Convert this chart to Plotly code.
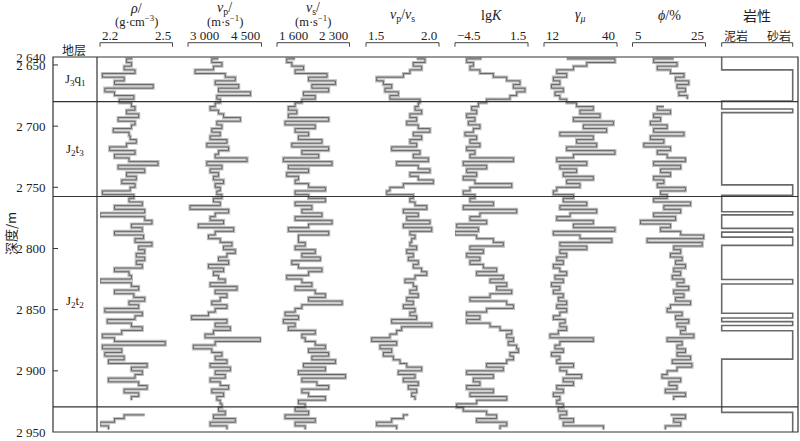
import plotly.graph_objects as go

# ---------------- data ----------------
depth = [2645, 2648, 2651, 2654, 2657, 2660, 2663, 2666, 2669, 2672,
         2675, 2678, 2681, 2684, 2687, 2690, 2693, 2696, 2699, 2702,
         2705, 2708, 2711, 2714, 2717, 2720, 2723, 2726, 2729, 2732,
         2735, 2738, 2741, 2744, 2747, 2750, 2753, 2756, 2759, 2762,
         2765, 2768, 2771, 2774, 2777, 2780, 2783, 2786, 2789, 2792,
         2795, 2798, 2801, 2804, 2807, 2810, 2813, 2816, 2819, 2822,
         2825, 2828, 2831, 2834, 2837, 2840, 2843, 2846, 2849, 2852,
         2855, 2858, 2861, 2864, 2867, 2870, 2873, 2876, 2879, 2882,
         2885, 2888, 2891, 2894, 2897, 2900, 2903, 2906, 2909, 2912,
         2915, 2918, 2921, 2924, 2927, 2930, 2933, 2936, 2939, 2942,
         2945, 2948]

rho = [2.335, 2.31, 2.33, 2.30, 2.345, 2.21, 2.30, 2.26, 2.42, 2.22,
       2.26, 2.34, 2.28, 2.33, 2.345, 2.31, 2.36, 2.275, 2.345, 2.33,
       2.255, 2.32, 2.325, 2.35, 2.31, 2.24, 2.345, 2.26, 2.32, 2.44,
       2.275, 2.385, 2.31, 2.35, 2.29, 2.345, 2.325, 2.21, 2.34, 2.32,
       2.375, 2.26, 2.385, 2.20, 2.385, 2.415, 2.33, 2.375, 2.26, 2.38,
       2.345, 2.415, 2.36, 2.385, 2.35, 2.385, 2.35, 2.375, 2.26, 2.32,
       2.33, 2.20, 2.33, 2.36, 2.26, 2.34, 2.385, 2.32, 2.36, 2.22,
       2.375, 2.345, 2.23, 2.33, 2.375, 2.29, 2.21, 2.26, 2.47, 2.21,
       2.29, 2.22, 2.30, 2.235, 2.395, 2.33, 2.375, 2.345, 2.235, 2.36,
       2.395, 2.30, 2.36, 2.33, None, None, None, 2.385, 2.30, 2.26,
       2.20, 2.235]

vp = [3623, 3486, 3692, 3520, 3144, 3760, 3965, 3555, 4034, 3623,
      4274, 3589, 3658, 3555, 3452, 3623, 3726, 4068, 3589, 3692,
      3486, 3658, 3452, 3795, 3384, 3829, 3623, 3555, 4205, 3384,
      3692, 3452, 3623, 3520, 3726, 3555, 3658, 3589, 3692, 3520,
      3658, 3041, 3829, 3555, 3452, 3726, 3212, 3932, 3555, 3418,
      3658, 3897, 3726, 3965, 3795, 3623, 3829, 3418, 3726, 3520,
      3623, 3760, 3452, 4000, 3555, 3795, 3658, 3486, 3795, 3555,
      3418, 3075, 3795, 3555, 3863, 3520, 3349, 4479, 3555, 3110,
      3486, 3692, 3555, 3795, 3452, 3863, 3555, 3760, 3452, 3658,
      3829, 3486, 3726, 3589, 3658, 3692, 3623, 3760, 3520, 3965,
      3452, 3795]

vs = [1775, 1694, 1743, 1856, 1775, 2083, 1905, 2164, 1937, 2099,
      1856, 1969, 1840, 1775, 1710, 1791, 1710, 2099, 1678, 1969,
      1775, 1905, 1807, 2034, 1743, 2099, 1840, 2002, 1662, 2131,
      1710, 1905, 1694, 1807, 1775, 1905, 2067, 1775, 1905, 2067,
      1775, 1937, 1840, 2034, 1775, 2131, 1905, 1710, 2099, 1807,
      1807, 1872, 1775, 1969, 1840, 2018, 1743, 1807, 2034, 1905,
      1694, 1840, 1937, 1775, 1969, 2067, 1905, 2229, 1840, 1775,
      1678, 1807, 1662, 1775, 1710, 1969, 1840, 1872, 1969, 2067,
      1905, 2099, 1937, 2164, 1856, 2067, 1807, 2261, 1840, 1986,
      2099, 1840, 1905, 2067, 1807, 1872, 1775, 1905, 1678, 1969,
      1775, 1872]

vpvs = [1.847, 1.904, 1.824, 1.881, 1.801, 1.756, 1.573, 1.619, 1.676, 1.630,
        1.721, 1.664, 1.870, 1.858, 1.836, 1.881, 1.801, 1.847, 1.779, 1.858,
        1.938, 1.824, 1.881, 1.801, 1.847, 1.676, 1.870, 1.824, 1.927, 1.710,
        1.858, 1.938, 1.801, 1.858, 1.961, 1.756, 1.664, 1.642, 1.824, 1.801,
        1.836, 1.916, 1.756, 1.858, 1.779, 1.938, 1.756, 1.950, 1.801, 1.836,
        1.813, 1.801, 1.847, 1.779, 1.824, 1.790, 1.858, 1.824, 1.881, 1.916,
        1.836, 1.767, 1.824, 1.847, 1.801, 1.858, 1.779, 1.824, 1.756, 1.836,
        1.801, 1.847, 1.676, 1.950, 1.744, 1.710, 1.664, 1.539, 1.710, 1.596,
        1.676, 1.619, 1.687, 1.733, 1.779, 1.881, 1.721, 1.836, 1.756, 1.858,
        1.790, 1.847, 1.813, 1.836, None, None, None, 1.790, 1.756, 1.676,
        1.573, 1.710]

lgk = [-2.31, -3.54, -2.99, -3.27, -2.45, -1.35, -0.25, 0.84, 0.30, 1.25,
       0.57, 0.02, -1.90, -2.58, -3.13, -2.72, -3.54, -2.86, -3.40, -2.45,
       -2.99, -3.68, -2.72, -3.27, -2.45, -3.54, -2.86, -3.27, 0.30, -3.82,
       -1.90, -3.54, -2.72, -3.82, -2.86, 0.16, -3.27, -3.82, -2.86, -3.27,
       -1.35, -3.82, 0.57, -2.45, -3.27, -1.90, -4.36, -2.58, -4.50, -2.72,
       -1.35, -0.53, -3.27, -2.17, -3.54, -2.45, -3.27, -2.17, -1.08, -2.72,
       -0.53, -1.62, -0.25, -1.08, 0.16, -1.62, -3.27, -0.25, 0.30, -1.90,
       -3.54, -2.45, -3.54, -1.62, -0.80, 0.16, -0.25, 0.30, -0.12, 0.57,
       0.71, 0.02, 0.30, -0.25, -1.90, -0.53, -3.54, -1.35, -2.99, -2.45,
       -3.54, -1.35, -3.27, -0.25, -2.72, -4.36, -3.82, -1.90, -1.08, -2.72,
       -0.25, -0.80]

gamma = [20.7, 39.2, 28.4, 23.3, 16.9, 20.7, 15.6, 18.1, 14.9, 19.4,
         16.2, 18.1, 20.7, 24.5, 30.9, 25.8, 33.5, 23.3, 38.6, 27.1,
         36.0, 18.1, 30.9, 24.5, 32.2, 20.7, 39.2, 23.3, 16.9, 28.4,
         18.1, 24.5, 19.4, 30.9, 20.7, 25.8, 16.9, 15.6, 23.3, 19.4,
         28.4, 18.1, 32.2, 22.0, 16.9, 30.9, 23.3, 39.2, 15.6, 25.8,
         38.0, 18.1, 28.4, 18.1, 20.7, 16.9, 19.4, 15.6, 18.1, 20.7,
         16.2, 19.4, 14.9, 18.1, 15.6, 19.4, 17.5, 20.7, 16.9, 20.7,
         18.1, 15.6, 20.1, 18.1, 20.7, 17.5, 14.3, 30.9, 18.1, 16.2,
         19.4, 14.9, 18.1, 16.9, 23.3, 18.1, 20.7, 26.4, 19.4, 23.3,
         16.9, 19.4, 15.6, 18.1, 16.9, 19.4, 17.5, 20.7, 18.1, 23.3,
         19.4, 34.8]

phi = [16.3, 10.8, 17.2, 11.8, 15.4, 19.1, 16.8, 20.4, 17.2, 19.5,
       17.7, 20.0, None, 13.6, 11.8, 15.4, 10.8, 12.7, 9.9, 14.5,
       10.8, 19.1, 9.9, 13.6, 8.1, 15.4, 11.8, 14.5, 19.5, 10.8,
       18.2, 12.7, 15.4, 10.8, 13.6, 11.8, 19.5, 12.7, 14.5, 10.8,
       20.9, 13.6, 18.2, 10.8, 16.8, 7.2, 15.4, 12.7, 18.2, 24.5,
       9.0, 24.1, 16.3, 18.2, 15.4, 18.6, 16.8, 19.5, 16.3, 18.2,
       15.9, 19.1, 17.2, 20.4, 16.3, 19.1, 16.8, 20.9, 15.4, 14.5,
       18.6, 16.8, 20.4, 17.2, 19.5, 18.2, 21.8, 14.5, 18.6, 17.2,
       19.5, 17.2, 20.9, 15.9, 21.3, 17.2, 14.5, 13.1, 18.2, 15.0,
       17.2, 14.0, 19.5, 16.3, None, None, None, 15.4, 19.5, 16.3,
       18.2, 14.0]

# lithology: 0 = 泥岩 (mudstone), 1 = 砂岩 (sandstone); interval tops, last = bottom
lith_depth = [2643.5, 2654, 2679.5, 2686, 2689, 2748, 2756.5, 2770, 2772.5, 2783.6,
              2786.6, 2790.7, 2797.5, 2825.4, 2829, 2853, 2856.8, 2859.8, 2863, 2867.2,
              2890.4, 2934, 2950]
lith_code = [0, 1, 0, 1, 0, 1, 0, 1, 0, 1,
             0, 1, 0, 1, 0, 1, 0, 1, 0, 1,
             0, 1, 1]

# formations
form_names = ["J<sub>3</sub>q<sub>1</sub>", "J<sub>2</sub>t<sub>3</sub>", "J<sub>2</sub>t<sub>2</sub>", ""]
form_top = [2643.5, 2680, 2757.5, 2929.5]
form_bot = [2680, 2757.5, 2929.5, 2950]

depth_ticks = [2643.5, 2650, 2700, 2750, 2800, 2850, 2900, 2950]
depth_ticktext = ["2 640", "2 650", "2 700", "2 750", "2 800", "2 850", "2 900", "2 950"]

# track definitions: title, subtitle, min, max, left label, right label, values
tracks = [
    ("<i>ρ</i>/", "(g·cm<sup>−3</sup>)", 2.2, 2.5, "2.2", "2.5", rho),
    ("<i>v</i><sub>p</sub>/", "(m·s<sup>−1</sup>)", 3000, 4500, "3 000", "4 500", vp),
    ("<i>v</i><sub>s</sub>/", "(m·s<sup>−1</sup>)", 1600, 2300, "1 600", "2 300", vs),
    ("<i>v</i><sub>p</sub>/<i>v</i><sub>s</sub>", None, 1.5, 2.0, "1.5", "2.0", vpvs),
    ("lg<i>K</i>", None, -4.5, 1.5, "−4.5", "1.5", lgk),
    ("<i>γ</i><sub><i>μ</i></sub>", None, 12, 40, "12", "40", gamma),
    ("<i>ϕ</i>/%", None, 5, 25, "5", "25", phi),
]

# ---------------- layout geometry (pixels) ----------------
W, H = 800, 441
FL, FR, FT, FB = 53, 798, 57, 432
DIV = 97
track_px = [(100, 172.5), (188, 261.5), (277, 349.5), (366, 439),
            (455, 528), (544, 617), (632.5, 705.5)]
lith_px = (721.7, 792.7)

def px(x):
    return x / W

def py(y):
    return 1 - y / H

SERIF = "Liberation Serif, Times New Roman, serif"
CJK = "Noto Sans CJK SC"
LINE = "#333333"
CURVE_DARK = "#505050"
CURVE_LIGHT = "#bdbdbd"

fig = go.Figure()
layout = dict(
    width=W, height=H, autosize=False,
    margin=dict(l=0, r=0, t=0, b=0, autoexpand=False),
    paper_bgcolor="white", plot_bgcolor="white",
    showlegend=False,
    xaxis=dict(domain=[px(FL), px(FR)], range=[0, 1], anchor="y",
               showticklabels=False, ticks="", showline=False, showgrid=False, zeroline=False),
    yaxis=dict(domain=[py(FB), py(FT)], range=[2950, 2643.5],
               anchor="free", position=px(FL), side="left",
               ticklabelposition="outside",
               tickvals=depth_ticks, ticktext=depth_ticktext,
               ticks="outside", ticklen=5, tickcolor="rgba(0,0,0,0)", tickwidth=1,
               showline=False, showgrid=False, zeroline=False, automargin=False,
               tickfont=dict(family=SERIF, size=13, color="#222")),
)

annotations = []
shapes = []

def ann(text, x, y, size=13, xanchor="center", family=SERIF, angle=0):
    annotations.append(dict(text=text, x=px(x), y=py(y), xref="paper", yref="paper",
                            xanchor=xanchor, yanchor="middle", showarrow=False,
                            textangle=angle,
                            font=dict(family=family, size=size, color="#222")))

def bracket(x0, x1):
    shapes.append(dict(type="path", xref="paper", yref="paper",
                       path=f"M {px(x0)},{py(46.7)} L {px(x0)},{py(42.7)} L {px(x1)},{py(42.7)} L {px(x1)},{py(46.7)}",
                       line=dict(color="#444", width=1)))

for i, (t1, t2, lo, hi, llab, rlab, vals) in enumerate(tracks):
    ax = f"xaxis{i + 2}"
    xr = f"x{i + 2}"
    x0, x1 = track_px[i]
    layout[ax] = dict(domain=[px(x0), px(x1)], range=[lo, hi], visible=False, anchor="y")
    for col, wid in ((CURVE_LIGHT, 3.2), (CURVE_DARK, 0.8)):
        fig.add_trace(go.Scatter(x=vals, y=depth, xaxis=xr, yaxis="y", mode="lines",
                                 line=dict(color=col, width=wid, shape="hv"),
                                 connectgaps=False, hoverinfo="skip"))
    cx = (x0 + x1) / 2
    if t2 is None:
        ann(t1, cx, 16, size=14)
    else:
        ann(t1, cx, 8.5, size=14)
        ann(t2, cx, 21, size=12.5)
    ann(llab, x0, 36, size=13, xanchor="left")
    ann(rlab, x1, 36, size=13, xanchor="right")
    bracket(x0, x1)

# lithology track
lx0, lx1 = lith_px
pad = 0.03
layout["xaxis9"] = dict(domain=[px(lx0 - pad * (lx1 - lx0)), px(lx1 + pad * (lx1 - lx0))],
                        range=[-pad, 1 + pad], visible=False, anchor="y")
fig.add_trace(go.Scatter(x=lith_code, y=lith_depth, xaxis="x9", yaxis="y", mode="lines",
                         line=dict(color="#6a6a6a", width=1.6, shape="vh"), hoverinfo="skip"))
ann("岩性", (lx0 + lx1) / 2, 15, size=14, family=CJK)
ann("泥岩", lx0, 36, size=12, xanchor="left", family=CJK)
ann("砂岩", lx1, 36, size=12, xanchor="right", family=CJK)
bracket(lx0, lx1)

# stratum column
ann("地层", (FL + DIV) / 2 - 1, 49, size=12, family=CJK)
for name, top, bot in zip(form_names, form_top, form_bot):
    if name:
        annotations.append(dict(text=name, x=px((FL + DIV) / 2), y=(top + bot) / 2,
                                xref="paper", yref="y", showarrow=False,
                                xanchor="center", yanchor="middle",
                                font=dict(family=SERIF, size=13, color="#222")))

# inward depth tick marks
for tv in depth_ticks[1:-1]:
    shapes.append(dict(type="line", xref="paper", yref="y", x0=px(FL), x1=px(FL + 5),
                       y0=tv, y1=tv, line=dict(color=LINE, width=1)))

# formation boundaries
for top in form_top[1:]:
    shapes.append(dict(type="line", xref="paper", yref="y", x0=px(FL), x1=px(FR),
                       y0=top, y1=top, line=dict(color=LINE, width=1.2)))

# frame and divider
shapes.append(dict(type="rect", xref="paper", yref="paper", x0=px(FL), x1=px(FR),
                   y0=py(FB), y1=py(FT), line=dict(color=LINE, width=1.2)))
shapes.append(dict(type="line", xref="paper", yref="paper", x0=px(DIV), x1=px(DIV),
                   y0=py(FB), y1=py(FT), line=dict(color=LINE, width=1.2)))

# depth axis title
ann("深度/m", 10, 234, size=13, family=CJK, angle=-90)

layout["annotations"] = annotations
layout["shapes"] = shapes
fig.update_layout(**layout)

fig.write_html("out.html", config={"displayModeBar": False},
               post_script="document.body.style.margin='0';document.body.style.padding='0';document.body.style.overflow='hidden';")
